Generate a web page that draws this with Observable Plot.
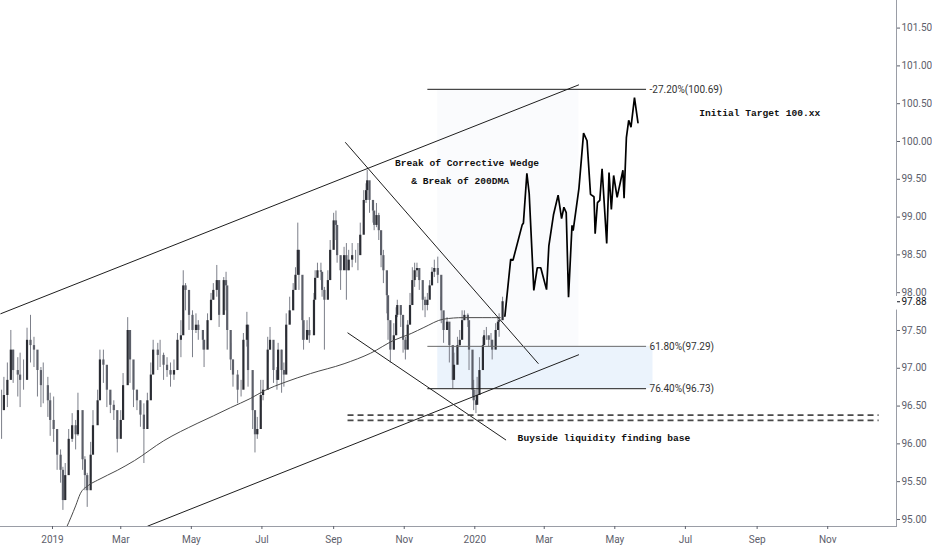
<!DOCTYPE html>
<html><head><meta charset="utf-8">
<script src="https://cdn.jsdelivr.net/npm/d3@7"></script>
<script src="https://cdn.jsdelivr.net/npm/@observablehq/plot@0.6"></script>
<style>
html,body{margin:0;padding:0;background:#fff;}
#chart svg{display:block;}
</style></head><body><div id="chart"></div>
<script>
// ---- Price candles (approx. every 2-3 days) ----
const candleDate = [
"2018-11-18","2018-11-20","2018-11-23","2018-11-26","2018-11-28","2018-12-02","2018-12-04","2018-12-07","2018-12-10","2018-12-13",
"2018-12-16","2018-12-19","2018-12-22","2018-12-24","2018-12-28","2018-12-30","2019-01-02","2019-01-05","2019-01-08","2019-01-10",
"2019-01-12","2019-01-15","2019-01-18","2019-01-21","2019-01-23","2019-01-27","2019-01-29","2019-01-31","2019-02-03","2019-02-05",
"2019-02-09","2019-02-11","2019-02-14","2019-02-17","2019-02-20","2019-02-23","2019-02-26","2019-03-01","2019-03-03","2019-03-07",
"2019-03-09","2019-03-12","2019-03-15","2019-03-18","2019-03-21","2019-03-24","2019-03-27","2019-03-29","2019-04-02","2019-04-04",
"2019-04-07","2019-04-10","2019-04-13","2019-04-16","2019-04-19","2019-04-22","2019-04-24","2019-04-26","2019-04-29","2019-05-02",
"2019-05-05","2019-05-07","2019-05-11","2019-05-12","2019-05-15","2019-05-18","2019-05-20","2019-05-23","2019-05-25","2019-05-29",
"2019-05-31","2019-06-01","2019-06-04","2019-06-06","2019-06-10","2019-06-13","2019-06-15","2019-06-18","2019-06-19","2019-06-23",
"2019-06-25","2019-06-27","2019-06-30","2019-07-02","2019-07-06","2019-07-08","2019-07-11","2019-07-14","2019-07-15","2019-07-18",
"2019-07-20","2019-07-22","2019-07-25","2019-07-28","2019-07-30","2019-08-01","2019-08-02","2019-08-05","2019-08-06","2019-08-09",
"2019-08-11","2019-08-15","2019-08-16","2019-08-18","2019-08-21","2019-08-22","2019-08-24","2019-08-27","2019-08-29","2019-09-01",
"2019-09-03","2019-09-04","2019-09-07","2019-09-10","2019-09-12","2019-09-14","2019-09-17","2019-09-20","2019-09-22","2019-09-24",
"2019-09-27","2019-09-29","2019-09-30","2019-10-02","2019-10-05","2019-10-06","2019-10-08","2019-10-10","2019-10-12","2019-10-14",
"2019-10-17","2019-10-18","2019-10-20","2019-10-23","2019-10-25","2019-10-26","2019-10-29","2019-10-31","2019-11-02","2019-11-04",
"2019-11-06","2019-11-08","2019-11-10","2019-11-12","2019-11-14","2019-11-17","2019-11-19","2019-11-21","2019-11-23","2019-11-25",
"2019-11-27","2019-11-30","2019-12-03","2019-12-05","2019-12-08","2019-12-10","2019-12-13","2019-12-14","2019-12-17","2019-12-19",
"2019-12-21","2019-12-23","2019-12-26","2019-12-27","2019-12-30","2019-12-31","2020-01-02","2020-01-03","2020-01-05","2020-01-08",
"2020-01-09","2020-01-11","2020-01-13","2020-01-15","2020-01-16","2020-01-19","2020-01-21","2020-01-22","2020-01-25"];
const candleHigh = [
96.71,96.88,97.07,97.50,97.24,97.14,97.20,97.11,97.53,97.70,
97.41,97.11,97.01,97.07,96.88,96.67,96.62,96.10,95.92,95.69,
95.74,96.19,96.40,96.31,96.67,95.96,95.83,95.61,96.02,96.44,
96.71,97.24,97.24,96.88,96.67,96.57,96.22,96.44,96.93,97.67,
97.33,96.97,96.71,96.57,96.53,96.67,97.07,97.37,97.33,97.37,
97.20,97.14,97.07,97.11,97.46,97.63,98.29,98.12,97.86,97.76,
97.72,97.63,97.50,97.37,97.72,97.99,98.12,98.36,97.94,98.20,
98.27,97.72,97.33,97.11,96.97,96.84,97.46,97.74,97.20,96.71,
96.31,96.35,96.84,96.84,97.41,97.54,97.14,97.01,97.33,97.24,
97.07,97.72,97.94,98.12,98.33,98.92,98.43,98.03,97.59,97.63,
97.67,97.99,98.29,98.39,98.39,98.16,98.07,98.29,98.69,99.05,
99.08,98.65,98.47,98.60,98.65,98.56,98.65,98.56,98.65,98.92,
99.35,99.44,99.62,99.39,99.22,98.99,99.18,99.05,98.73,98.56,
98.20,97.90,97.50,97.59,97.80,97.90,97.80,97.54,97.41,97.63,
97.99,98.33,98.39,98.39,98.29,97.99,97.94,97.99,98.16,98.33,
98.43,98.47,97.94,97.72,97.67,97.59,97.14,97.20,97.41,97.50,
97.76,97.76,97.72,97.59,97.11,96.84,96.71,96.88,97.14,97.41,
97.50,97.54,97.41,97.46,97.37,97.59,97.67,97.72,97.94];
const candleLow = [
96.06,96.44,96.48,96.88,96.80,96.62,96.48,96.71,97.14,97.07,
97.01,96.62,96.48,96.53,96.35,96.10,96.02,95.65,95.48,95.12,
95.38,95.83,96.02,95.92,96.10,95.65,95.38,95.16,95.56,95.92,
96.40,96.71,96.80,96.48,96.40,96.31,95.88,96.10,96.53,97.24,
96.80,96.48,96.44,96.22,95.74,96.40,96.67,97.01,96.97,97.01,
96.84,96.88,96.75,96.84,97.24,97.14,97.90,97.76,97.50,97.14,
97.46,97.37,97.24,97.01,97.50,97.76,97.90,97.94,97.54,98.03,
97.76,97.24,96.97,96.75,96.53,96.62,97.24,97.28,96.75,96.19,
95.88,96.06,96.48,96.57,97.07,97.24,96.80,96.71,97.07,96.67,
96.75,97.41,97.59,97.94,98.07,98.43,98.03,97.37,97.24,97.41,
97.33,97.72,98.07,98.20,98.16,97.94,97.24,98.03,98.43,98.78,
98.69,98.39,98.03,98.43,97.90,98.29,98.33,98.39,98.29,98.60,
98.99,99.18,99.22,99.05,98.92,98.82,98.86,98.69,98.33,98.12,
97.72,97.37,97.07,97.24,97.50,97.67,97.54,97.20,97.11,97.37,
97.67,97.94,98.07,98.20,98.03,97.76,97.67,97.76,97.94,98.16,
98.20,98.12,97.59,97.33,97.50,97.07,96.73,96.97,97.14,97.28,
97.50,97.63,97.54,96.97,96.62,96.44,96.40,96.53,96.71,97.07,
97.33,97.37,97.28,97.28,97.11,97.37,97.50,97.41,97.76];
const candleClose = [
96.44,96.64,96.84,97.24,96.97,96.91,96.84,96.84,97.37,97.30,
97.24,96.97,96.77,96.77,96.57,96.31,96.19,95.85,95.65,95.25,
95.58,96.06,96.24,96.12,96.44,95.79,95.58,95.38,95.85,96.24,
96.57,97.11,97.04,96.71,96.51,96.44,96.06,96.31,96.77,97.50,
97.11,96.71,96.57,96.38,96.19,96.57,96.91,97.24,97.17,97.17,
97.04,96.97,96.91,96.97,97.37,97.43,98.09,98.03,97.70,97.50,
97.57,97.50,97.37,97.24,97.63,97.90,98.03,98.16,97.70,98.16,
98.09,97.50,97.11,96.91,96.71,96.71,97.37,97.57,96.97,96.44,
96.12,96.19,96.64,96.71,97.24,97.37,96.97,96.84,97.24,96.97,
96.91,97.57,97.76,98.03,98.23,98.56,98.23,97.63,97.37,97.50,
97.43,97.90,98.19,98.29,98.27,98.03,97.90,98.16,98.56,98.95,
98.89,98.49,98.29,98.49,98.29,98.43,98.49,98.49,98.49,98.76,
99.22,99.35,99.48,99.22,99.08,98.89,99.02,98.82,98.49,98.29,
97.96,97.63,97.24,97.43,97.70,97.83,97.70,97.37,97.24,97.57,
97.83,98.16,98.29,98.32,98.16,97.90,97.83,97.90,98.09,98.27,
98.32,98.23,97.76,97.50,97.61,97.30,96.84,97.04,97.30,97.37,
97.63,97.70,97.63,97.24,96.71,96.57,96.51,96.64,96.97,97.30,
97.43,97.43,97.37,97.37,97.24,97.50,97.61,97.63,97.88];

// ---- 200-day moving average ----
const dmaDate = ["2019-01-13","2019-01-17","2019-01-21","2019-01-25","2019-02-01","2019-02-09","2019-02-26","2019-03-13","2019-04-07","2019-05-06","2019-05-20","2019-06-04","2019-06-21","2019-07-04","2019-07-20","2019-08-12","2019-09-10","2019-10-03","2019-10-23","2019-11-07","2019-11-18","2019-12-05","2019-12-22","2020-01-08","2020-01-23"];
const dmaValue = [94.89,95.03,95.18,95.34,95.45,95.52,95.65,95.78,96.04,96.27,96.37,96.48,96.60,96.71,96.81,96.93,97.06,97.20,97.37,97.46,97.54,97.65,97.67,97.67,97.67];

// ---- Projected path ----
const projDate = ["2020-01-27","2020-02-01","2020-02-03","2020-02-11","2020-02-12","2020-02-15","2020-02-17","2020-02-21","2020-02-24","2020-02-27","2020-03-03","2020-03-05","2020-03-09","2020-03-13","2020-03-16","2020-03-18","2020-03-20","2020-03-22","2020-03-25","2020-03-26","2020-03-31","2020-04-04","2020-04-07","2020-04-10","2020-04-13","2020-04-14","2020-04-16","2020-04-18","2020-04-20","2020-04-24","2020-04-26","2020-04-28","2020-04-30","2020-05-03","2020-05-08","2020-05-09","2020-05-11","2020-05-13","2020-05-15","2020-05-18","2020-05-21"];
const projValue = [97.69,98.44,98.43,98.90,98.92,99.58,99.31,98.03,98.33,98.33,98.04,98.62,99.03,99.29,98.98,99.13,99.06,97.94,98.89,98.82,99.38,100.11,100.01,99.30,99.27,98.78,99.19,99.22,99.64,98.65,99.59,99.10,99.55,99.26,99.62,99.25,100.05,100.28,100.19,100.58,100.25];

// ---- Trend lines: channel and wedge ----
const trendStartDate = ["2018-11-17","2019-03-24","2019-09-11","2019-09-13"];
const trendStartValue = [97.72, 94.91, 99.99, 97.47];
const trendEndDate = ["2020-03-31","2020-03-31","2020-02-25","2020-01-28"];
const trendEndValue = [100.75, 97.18, 97.06, 96.05];

// ---- Fibonacci levels ----
const fibLevel = [100.69, 97.29, 96.73];
const fibLabel = ["-27.20%(100.69)", "61.80%(97.29)", "76.40%(96.73)"];
const fibStart = "2019-11-21", fibEnd = "2020-05-28", fibLabelDate = "2020-05-31";
const zoneStart = "2019-11-30", zoneEnd = "2020-06-03", zoneShadeEnd = "2020-03-31";

// ---- Buyside liquidity levels (double dashed) ----
const liqLevel = [96.38, 96.31];
const liqStart = "2019-09-13", liqEnd = "2020-12-15";

// ---- Notes ----
const noteText = ["Break of Corrective Wedge", "& Break of 200DMA", "Initial Target 100.xx", "Buyside liquidity finding base"];
const noteDate = ["2019-10-24", "2019-11-07", "2020-07-13", "2020-02-07"];
const noteValue = [99.71, 99.48, 100.38, 96.08];

// ---- Axes ----
const yTicks = [95, 95.5, 96, 96.5, 97, 97.5, 98, 98.5, 99, 99.5, 100, 100.5, 101, 101.5];
const lastPrice = 97.88;

const P = s => new Date(s + "T00:00:00Z");
const xDomain = [new Date("2018-11-17T01:30:00Z"), new Date("2020-12-30T11:00:00Z")];
const candles = candleDate.map((d, i) => ({
  date: P(d), high: candleHigh[i], low: candleLow[i], close: candleClose[i],
  open: i === 0 ? candleClose[0] : candleClose[i - 1]
}));
const up = candles.filter(d => d.close >= d.open);
const down = candles.filter(d => d.close < d.open);
const dma = dmaDate.map((d, i) => ({date: P(d), value: dmaValue[i]}));
const proj = projDate.map((d, i) => ({date: P(d), value: projValue[i]}));
const trends = trendStartDate.map((d, i) => ({x1: P(d), y1: trendStartValue[i], x2: P(trendEndDate[i]), y2: trendEndValue[i]}));
const fibs = fibLevel.map((v, i) => ({y: v, x1: P(fibStart), x2: P(fibEnd), label: fibLabel[i], lx: P(fibLabelDate)}));
const liq = liqLevel.map(v => ({y: v, x1: P(liqStart), x2: P(liqEnd)}));
const notes = noteText.map((t, i) => ({text: t, date: P(noteDate[i]), value: noteValue[i]}));
const zone = [{x1: P(zoneStart), x2: P(zoneEnd), y1: fibLevel[2], y2: fibLevel[1]}];
const shade = [{x1: P(zoneStart), x2: P(zoneShadeEnd), y1: fibLevel[1], y2: fibLevel[0]}];
// white box behind the last-price label on the price scale
const priceBox = [{x1: new Date("2020-12-28T00:00:00Z"), x2: new Date("2021-02-15T00:00:00Z"), y1: lastPrice - 0.11, y2: lastPrice + 0.07}];

const mono = "'Liberation Mono','DejaVu Sans Mono',monospace";
const axisColor = "#5d606b";

const chart = Plot.plot({
  width: 932,
  height: 550,
  marginLeft: 0,
  marginRight: 36,
  marginTop: 0,
  marginBottom: 24,
  style: {fontFamily: "'Liberation Sans Narrow','Arial Narrow',Roboto,sans-serif", fontSize: "10px", background: "#fff"},
  x: {type: "utc", domain: xDomain},
  y: {domain: [94.907, 101.865]},
  marks: [
    Plot.rect(shade, {x1: "x1", x2: "x2", y1: "y1", y2: "y2", fill: "#fafbfd"}),
    Plot.rect(zone, {x1: "x1", x2: "x2", y1: "y1", y2: "y2", fill: "#ebf3fc"}),
    Plot.ruleX(candles, {x: "date", y1: "low", y2: "high", stroke: "#7c7f89", strokeWidth: 1, clip: true}),
    Plot.ruleX(down, {x: "date", y1: "open", y2: "close", stroke: "#5c5f69", strokeWidth: 2.2, clip: true}),
    Plot.ruleX(up, {x: "date", y1: "open", y2: "close", stroke: "#2a2c33", strokeWidth: 2.2, clip: true}),
    Plot.line(dma, {x: "date", y: "value", stroke: "#4a4a4a", strokeWidth: 1, curve: "monotone-x", clip: true}),
    Plot.link(trends, {x1: "x1", y1: "y1", x2: "x2", y2: "y2", stroke: "#1e1e1e", strokeWidth: 1, clip: true}),
    Plot.link(fibs, {x1: "x1", x2: "x2", y1: "y", y2: "y", stroke: (d, i) => i === 1 ? "#6b6b6b" : "#1e1e1e", strokeWidth: 1}),
    Plot.text(fibs, {x: "lx", y: "y", text: "label", textAnchor: "start", fill: "#333", fontSize: 10}),
    Plot.link(liq, {x1: "x1", x2: "x2", y1: "y", y2: "y", stroke: "#4a4a4a", strokeWidth: 1.8, strokeDasharray: "6,4"}),
    Plot.line(proj, {x: "date", y: "value", stroke: "#000", strokeWidth: 1.7, strokeLinejoin: "miter"}),
    Plot.text(notes, {x: "date", y: "value", text: "text", textAnchor: "start", fontFamily: mono, fontWeight: "bold", fontSize: 9.6, fill: "#111"}),
    Plot.frame({anchor: "right", stroke: "#9a9da6"}),
    Plot.frame({anchor: "bottom", stroke: "#9a9da6"}),
    Plot.axisY({anchor: "right", ticks: yTicks, tickFormat: d => d.toFixed(2), tickSize: 3, tickPadding: 2, color: axisColor, fontSize: 10}),
    Plot.axisX({ticks: d3.utcMonth.every(2), tickFormat: d => d.getUTCMonth() === 0 ? String(d.getUTCFullYear()) : d3.utcFormat("%b")(d), tickSize: 3, tickPadding: 6, color: axisColor, fontSize: 10}),
    Plot.rect(priceBox, {x1: "x1", x2: "x2", y1: "y1", y2: "y2", fill: "white", clip: false}),
    Plot.axisY({anchor: "right", ticks: [lastPrice], tickFormat: d => d.toFixed(2), tickSize: 3, tickPadding: 2, color: "#131722", fontSize: 10})
  ]
});
document.getElementById("chart").appendChild(chart);
</script>
</body></html>
